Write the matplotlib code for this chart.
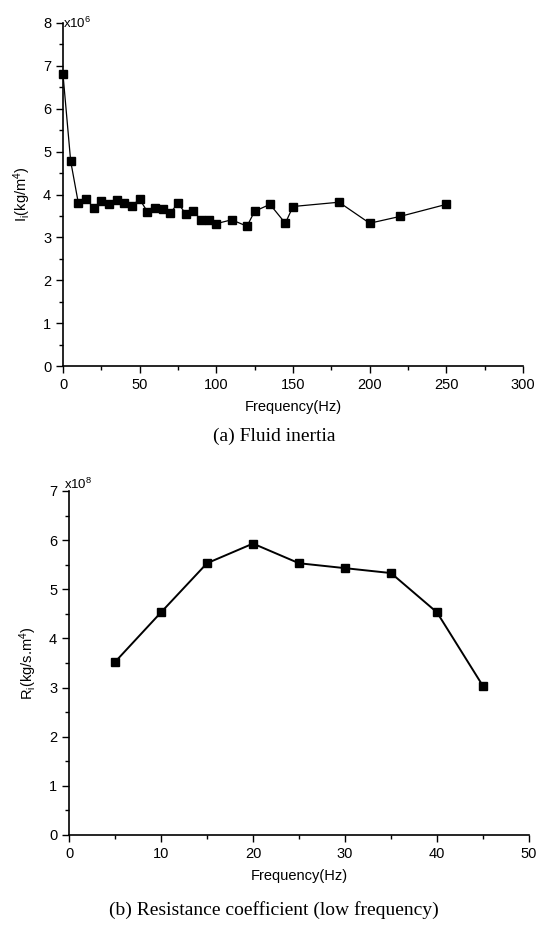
import numpy as np
import matplotlib.pyplot as plt
from matplotlib.ticker import MultipleLocator

# Fluid inertia data (x1e6 kg/m^4)
freq_a = [0, 5, 10, 15, 20, 25, 30, 35, 40, 45, 50, 55, 60, 65, 70, 75, 80, 85,
          90, 95, 100, 110, 120, 125, 135, 145, 150, 180, 200, 220, 250]
inertia = [6.8, 4.78, 3.80, 3.90, 3.69, 3.84, 3.77, 3.88, 3.80, 3.74, 3.89, 3.60,
           3.69, 3.67, 3.57, 3.80, 3.55, 3.61, 3.41, 3.41, 3.32, 3.41, 3.26, 3.61,
           3.77, 3.33, 3.72, 3.82, 3.33, 3.49, 3.77]

# Resistance coefficient data (x1e8 kg/s.m^4)
freq_b = [5, 10, 15, 20, 25, 30, 35, 40, 45]
resistance = [3.52, 4.53, 5.53, 5.93, 5.53, 5.43, 5.33, 4.53, 3.03]

sans = ['Liberation Sans', 'DejaVu Sans']
serif = ['Liberation Serif', 'DejaVu Serif']
plt.rcParams['font.family'] = sans
plt.rcParams['mathtext.fontset'] = 'custom'
plt.rcParams['mathtext.rm'] = 'Liberation Sans'
plt.rcParams['mathtext.it'] = 'Liberation Sans'

fig = plt.figure(figsize=(5.48, 9.26), dpi=100)
ax1 = fig.add_axes([63/548, 1 - 366/926, 460/548, 343/926])
ax2 = fig.add_axes([69/548, 1 - 835/926, 460/548, 344/926])


def style(ax, xmax, xmaj, ymax):
    ax.set_xlim(0, xmax)
    ax.set_ylim(0, ymax)
    ax.spines['top'].set_visible(False)
    ax.spines['right'].set_visible(False)
    ax.spines['left'].set_linewidth(1.2)
    ax.spines['bottom'].set_linewidth(1.2)
    ax.xaxis.set_major_locator(MultipleLocator(xmaj))
    ax.xaxis.set_minor_locator(MultipleLocator(xmaj / 2))
    ax.yaxis.set_major_locator(MultipleLocator(1))
    ax.yaxis.set_minor_locator(MultipleLocator(0.5))
    ax.tick_params(which='major', direction='out', length=5, width=1, labelsize=10.5)
    ax.tick_params(which='minor', direction='out', length=3, width=1)
    ax.set_xlabel('Frequency(Hz)', fontsize=10.5, labelpad=6)


# (a) fluid inertia
ax1.plot(freq_a, inertia, color='black', lw=0.9, marker='s', ms=5.5, clip_on=False)
style(ax1, 300, 50, 8)
ax1.set_ylabel(r'I$_\mathregular{i}$(kg/m$^\mathregular{4}$)', fontsize=10.5)
ax1.yaxis.set_label_coords(-0.065, 0.5)
ax1.text(0.0, 1.0, r'x10$^\mathregular{6}$', transform=ax1.transAxes,
         fontsize=9.5, ha='left', va='center')
fig.text(0.5, 1 - 436/926, '(a) Fluid inertia', family=serif, fontsize=14,
         ha='center', va='center')

# (b) resistance coefficient
ax2.plot(freq_b, resistance, color='black', lw=1.4, marker='s', ms=6, clip_on=False)
style(ax2, 50, 10, 7)
ax2.set_ylabel(r'R$_\mathregular{i}$(kg/s.m$^\mathregular{4}$)', fontsize=10.5)
ax2.yaxis.set_label_coords(-0.065, 0.5)
ax2.text(-0.01, 1.02, r'x10$^\mathregular{8}$', transform=ax2.transAxes,
         fontsize=9.5, ha='left', va='center')
fig.text(0.5, 1 - 910/926, '(b) Resistance coefficient (low frequency)', family=serif,
         fontsize=14, ha='center', va='center')

fig.savefig('out.png', dpi=100)
